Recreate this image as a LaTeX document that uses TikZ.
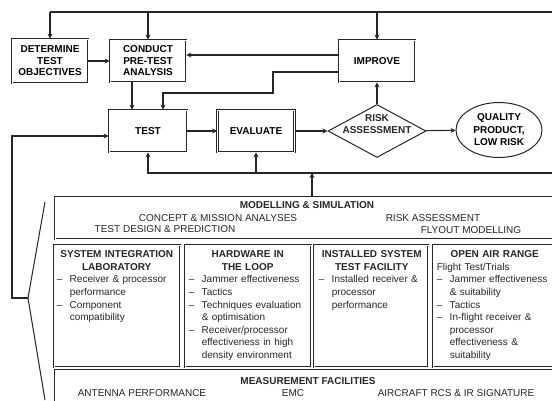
\documentclass[tikz,border=0pt]{standalone}
\usepackage{fontspec}
\setmainfont{Liberation Sans}
\usetikzlibrary{arrows.meta,shapes.geometric}

\hyphenpenalty=10000
\exhyphenpenalty=10000
\newcommand{\dashitem}[1]{\par\noindent\hangindent=13pt\hangafter=1\makebox[13pt][l]{--}#1\par}

\begin{document}
\begin{tikzpicture}[x=1pt,y=-1pt,
    line/.style={draw=black!85, line width=1.1pt},
    flow/.style={line, -{Stealth[length=5pt,width=5pt]}},
    stage/.style={draw=black!85, double=white, double distance=0.7pt, line width=0.8pt,
      minimum width=76pt, minimum height=42pt, align=center, inner sep=1pt,
      font=\fontsize{10}{11.5}\selectfont\bfseries},
    panel/.style={draw=black!85, double=white, double distance=1pt, line width=0.9pt, inner sep=0pt},
    heading/.style={inner sep=0pt, text=black!85, font=\fontsize{10}{12.5}\selectfont\bfseries},
    caption/.style={inner sep=0pt, text=black!85, font=\fontsize{10}{12}\selectfont},
    facility/.style={inner sep=0pt, anchor=north west, align=left, text=black!85,
      font=\fontsize{10}{12.6}\selectfont}
  ]
        \path[use as bounding box, clip] (0,0) rectangle (552,400);

        \node[stage, minimum height=44pt] (determine) at (50,61) {DETERMINE\\TEST\\OBJECTIVES};
        \node[stage] (conduct) at (148,61) {CONDUCT\\PRE-TEST\\ANALYSIS};
        \node[stage] (improve) at (377,61) {IMPROVE};
        \node[stage, minimum width=78pt] (test) at (148,131) {TEST};
        \node[stage, minimum width=77pt] (evaluate) at (256,131) {EVALUATE};
        \node[draw=black!85, line width=1pt, diamond, minimum width=98pt, minimum height=53pt, inner sep=0pt] (risk) at (377,131) {};
        \node[heading, align=center] (risklabel) at (377,124) {RISK\\ASSESSMENT};
        \node[draw=black!85, line width=1pt, ellipse, minimum width=86pt, minimum height=55pt, inner sep=0pt,
          align=center, font=\fontsize{10}{12.5}\selectfont\bfseries] (quality) at (499,130) {QUALITY\\PRODUCT,\\LOW RISK};

        \coordinate (topleft) at (50,12);
        \coordinate (topright) at (560,12);
        \coordinate (backright) at (560,173);
        \coordinate (feed) at (312,173);
        \coordinate (loopcorner) at (273,93);
        \coordinate (leftdown) at (12,298);
        \coordinate (brace) at (28,298);
        \coordinate (bracetop) at (45,202);
        \coordinate (bracebottom) at (45,400);

        \draw[line] (topright) -- (topleft);
        \draw[flow] (topleft) -- (determine);
        \draw[flow] (conduct |- topleft) -- (conduct);
        \draw[flow] (improve |- topleft) -- (improve);
        \draw[flow] (determine) -- (conduct);
        \draw[flow] ([yshift=6pt]improve.west) -- ([yshift=6pt]improve.west -| conduct.east);
        \draw[flow] ([yshift=-11pt]improve.west) -| (loopcorner) -| ([xshift=15pt]test.north);
        \draw[flow] ([xshift=-16pt]conduct.south) -- ([xshift=-16pt]test.north);
        \draw[flow] (test) -- (evaluate);
        \draw[flow] (evaluate) -- (risk);
        \draw[flow] (risk) -- (quality);
        \draw[flow] (risk) -- (improve);
        \draw[flow] (backright) -| (test);
        \draw[flow] (evaluate |- backright) -- (evaluate);

        \node[panel, minimum width=504pt, minimum height=42pt] (modelling) at (307,218) {};
        \node[heading] (modtitle) at (307,205) {MODELLING \& SIMULATION};
        \node[caption] (concept) at (218,218) {CONCEPT \& MISSION ANALYSES};
        \node[caption] (riskcap) at (433,218) {RISK ASSESSMENT};
        \node[caption] (design) at (165,229) {TEST DESIGN \& PREDICTION};
        \node[caption] (flyout) at (471,230) {FLYOUT MODELLING};
        \draw[flow] (modelling.north -| feed) -- (feed);

        \node[panel, minimum width=126pt, minimum height=122pt] (sil) at (117,306) {};
        \node[panel, minimum width=126pt, minimum height=122pt] (hil) at (248,306) {};
        \node[panel, minimum width=114pt, minimum height=122pt] (istf) at (371,306) {};
        \node[panel, minimum width=126pt, minimum height=122pt] (oar) at (496,306) {};

        \node[facility, text width=120pt] (siltext) at ([xshift=3pt,yshift=-6pt]sil.north west) {%
          {\centering\bfseries SYSTEM INTEGRATION\\LABORATORY\par}
          \dashitem{Receiver \& processor performance}
          \dashitem{Component compatibility}};
        \node[facility, text width=118pt] (hiltext) at ([xshift=4pt,yshift=-6pt]hil.north west) {%
          {\centering\bfseries HARDWARE IN\\THE LOOP\par}
          \dashitem{Jammer effectiveness}
          \dashitem{Tactics}
          \dashitem{Techniques evaluation \& optimisation}
          \dashitem{Receiver/processor effectiveness in high density environment}};
        \node[facility, text width=106pt] (istftext) at ([xshift=5pt,yshift=-6pt]istf.north west) {%
          {\centering\bfseries INSTALLED SYSTEM\\TEST FACILITY\par}
          \dashitem{Installed receiver~\& processor performance}};
        \node[facility, text width=116pt] (oartext) at ([xshift=4pt,yshift=-6pt]oar.north west) {%
          {\centering\bfseries OPEN AIR RANGE\par}
          \noindent Flight Test/Trials\par
          \dashitem{Jammer effectiveness \& suitability}
          \dashitem{Tactics}
          \dashitem{In-flight receiver~\& processor effectiveness \& suitability}};

        \node[panel, minimum width=504pt, minimum height=36pt] (measurement) at (307,388) {};
        \node[heading] (meastitle) at (308,381) {MEASUREMENT FACILITIES};
        \node[caption] (antenna) at (142,393) {ANTENNA PERFORMANCE};
        \node[caption] (emc) at (293,393) {EMC};
        \node[caption] (rcs) at (456,393) {AIRCRAFT RCS \& IR SIGNATURE};

        \draw[flow] (brace) -- (leftdown) |- ([yshift=-5pt]test.west);
        \draw[line, line width=1pt] (bracetop) -- (brace) -- (bracebottom);
\end{tikzpicture}
\end{document}
